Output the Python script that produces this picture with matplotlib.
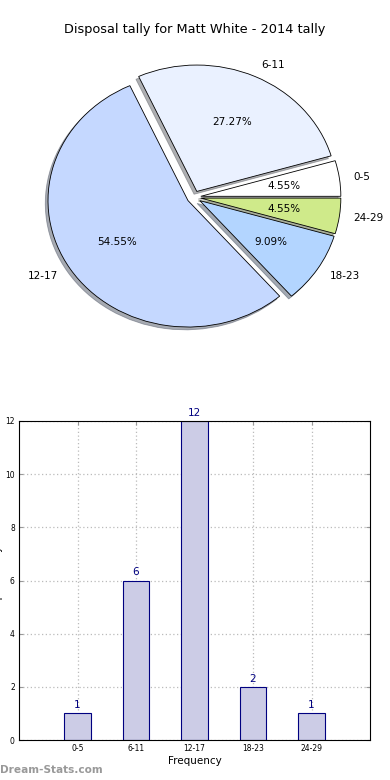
import matplotlib
matplotlib.use("Agg")
import matplotlib.pyplot as plt

categories = ["0-5", "6-11", "12-17", "18-23", "24-29"]
counts = [1, 6, 12, 2, 1]
pie_colors = ["#FFFFFF", "#EAF1FF", "#C5D8FF", "#B3D5FF", "#CFEA8A"]
title = "Disposal tally for Matt White - 2014 tally"
yticks = [0, 2, 4, 6, 8, 10, 12]

fig = plt.figure(figsize=(3.9, 7.8), dpi=100)
fig.patch.set_facecolor("white")

# Pie
axp = fig.add_axes([18.9 / 390, 1 - 355.2 / 780, 350 / 390, 316 / 780])
wedges, texts, autotexts = axp.pie(
    counts, labels=categories, colors=pie_colors, explode=[0.05] * len(counts),
    autopct="%1.2f%%", shadow=dict(ox=-0.014, oy=-0.016, shade=0.6),
    startangle=0, counterclock=True,
    wedgeprops=dict(edgecolor="black", linewidth=0.6),
    textprops=dict(fontsize=7.5))
axp.set_aspect("auto")
axp.set_xlim(-1.25, 1.25)
axp.set_ylim(-1.25, 1.25)
axp.axis("off")
fig.text(0.5, 1 - 30 / 780, title, ha="center", va="center", fontsize=9.3)

# Bars
axb = fig.add_axes([19 / 390, 1 - 740 / 780, 351 / 390, 319 / 780])
x = list(range(len(categories)))
axb.bar(x, counts, width=0.45, color="#CCCCE6", edgecolor="#000080", linewidth=0.8, zorder=2)
for xi, c in zip(x, counts):
    axb.text(xi, c + 0.12, str(c), ha="center", va="bottom", fontsize=7.5, color="#000080")
axb.set_xlim(-1, 5)
axb.set_ylim(0, 12)
axb.set_xticks(x)
axb.set_xticklabels(categories, fontsize=5.5)
axb.set_yticks(yticks)
axb.set_yticklabels([str(t) for t in yticks], fontsize=5.5)
axb.grid(True, linestyle=(0, (1, 2)), color="#BBBBBB", linewidth=0.9, zorder=0)
axb.set_axisbelow(True)
axb.tick_params(direction="in", length=3, color="#999999", top=True, right=True, pad=3)
axb.set_xlabel("Frequency", fontsize=7.5, labelpad=2)
axb.set_ylabel("Disposal tally", fontsize=7.5)
axb.yaxis.set_label_coords(-0.047, 0.5)

fig.text(0.0, 1 - 770 / 780, "Dream-Stats.com", ha="left", va="center",
         fontsize=7.6, color="#999999", fontweight="bold")

fig.savefig("out.png", dpi=100)
